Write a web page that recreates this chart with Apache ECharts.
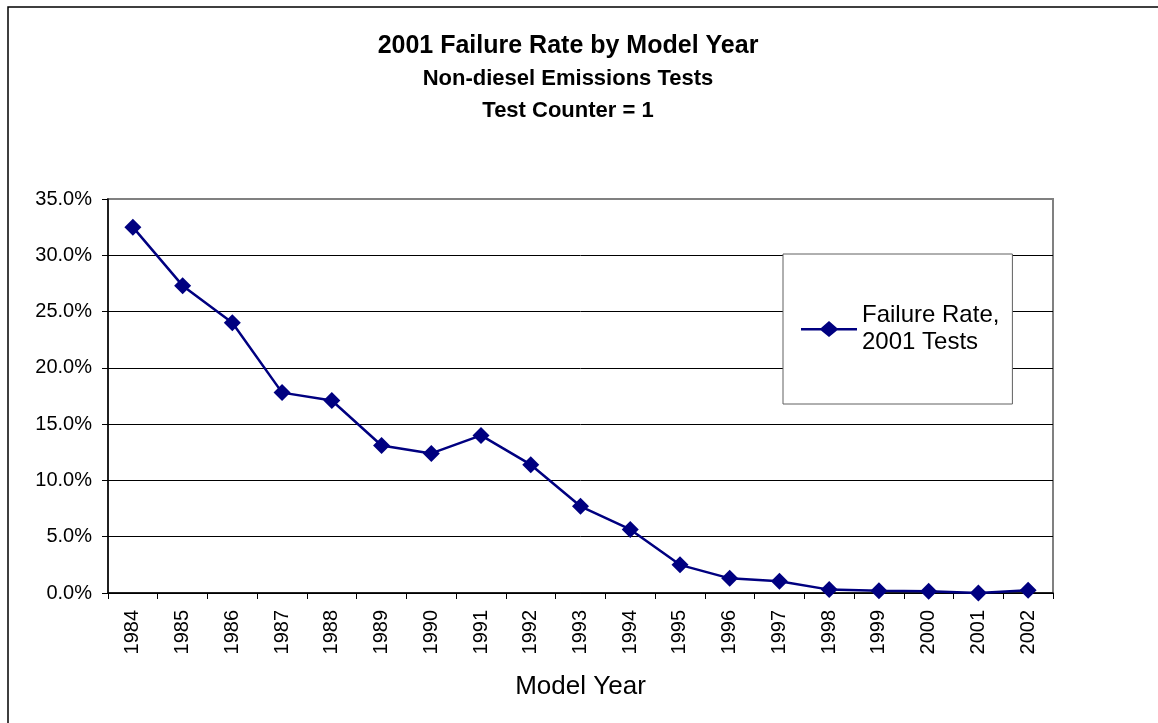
<!DOCTYPE html>
<html>
<head>
<meta charset="utf-8">
<script src="https://cdn.jsdelivr.net/npm/echarts@6/dist/echarts.min.js"></script>
<style>
  html, body { margin: 0; padding: 0; background: #fff; }
  #chart { width: 1158px; height: 723px; }
</style>
</head>
<body>
<div id="chart"></div>
<script>
// model years on the x axis
var years = ["1984", "1985", "1986", "1987", "1988", "1989", "1990", "1991", "1992", "1993",
  "1994", "1995", "1996", "1997", "1998", "1999", "2000", "2001", "2002"];
// failure rate in percent
var failureRate = [32.5, 27.3, 24.0, 17.8, 17.1, 13.1, 12.4, 14.0, 11.4, 7.7,
  5.65, 2.5, 1.3, 1.05, 0.3, 0.2, 0.15, 0.0, 0.25];
var seriesName = "Failure Rate,\n2001 Tests";

var font = "Arial, 'Liberation Sans', sans-serif";
var myChart = echarts.init(document.getElementById("chart"));

var option = {
  backgroundColor: "#fff",
  animation: false,
  graphic: [
    {
      // outer chart frame, only left and top edges are inside the picture
      type: "rect",
      shape: { x: 8, y: 7, width: 1300, height: 900 },
      style: { fill: "none", stroke: "#000", lineWidth: 1.5 },
      silent: true
    },
    {
      type: "text", x: 568, y: 46,
      style: { text: "2001 Failure Rate by Model Year", font: "bold 25px " + font, fill: "#000",
        align: "center", verticalAlign: "middle" }
    },
    {
      type: "text", x: 568, y: 79,
      style: { text: "Non-diesel Emissions Tests", font: "bold 22px " + font, fill: "#000",
        align: "center", verticalAlign: "middle" }
    },
    {
      type: "text", x: 568, y: 111,
      style: { text: "Test Counter = 1", font: "bold 22px " + font, fill: "#000",
        align: "center", verticalAlign: "middle" }
    }
  ],
  grid: {
    left: 108,
    right: 105,
    top: 199,
    bottom: 130,
    show: true,
    borderColor: "#808080",
    borderWidth: 2,
    backgroundColor: "#fff"
  },
  legend: {
    left: 783,
    top: 254,
    orient: "vertical",
    backgroundColor: "#fff",
    borderColor: "#606060",
    borderWidth: 1,
    padding: [48, 13, 48, 18],
    itemWidth: 56,
    itemHeight: 16,
    itemGap: 5,
    textStyle: { fontFamily: font, fontSize: 24, color: "#000", lineHeight: 27 },
    data: [{
      name: seriesName,
      // line with a diamond on it, like the series mark
      icon: "path://M0,7L20,7L28,0L36,7L56,7L56,9.5L36,9.5L28,16L20,9.5L0,9.5Z"
    }]
  },
  xAxis: {
    type: "category",
    data: years,
    boundaryGap: true,
    name: "Model Year",
    nameLocation: "middle",
    nameGap: 81,
    nameTextStyle: { fontFamily: font, fontSize: 26, color: "#000" },
    axisLine: { lineStyle: { color: "#000", width: 1.5 } },
    axisTick: { show: true, alignWithLabel: false, length: 6, lineStyle: { color: "#000" } },
    axisLabel: { rotate: 90, interval: 0, margin: 17, fontFamily: font, fontSize: 20, color: "#000" },
    splitLine: { show: false }
  },
  yAxis: {
    type: "value",
    min: 0,
    max: 35,
    interval: 5,
    axisLine: { show: true, lineStyle: { color: "#000", width: 1.5 } },
    axisTick: { show: true, length: 6, lineStyle: { color: "#000" } },
    axisLabel: {
      fontFamily: font, fontSize: 20, color: "#000", margin: 16,
      formatter: function (v) { return v.toFixed(1) + "%"; }
    },
    splitLine: { show: true, showMaxLine: false, lineStyle: { color: "#000", width: 1 } }
  },
  series: [
    {
      name: seriesName,
      type: "line",
      data: failureRate,
      symbol: "diamond",
      symbolSize: 17,
      lineStyle: { color: "#000080", width: 2.5 },
      itemStyle: { color: "#000080" }
    }
  ]
};

myChart.setOption(option);
</script>
</body>
</html>
